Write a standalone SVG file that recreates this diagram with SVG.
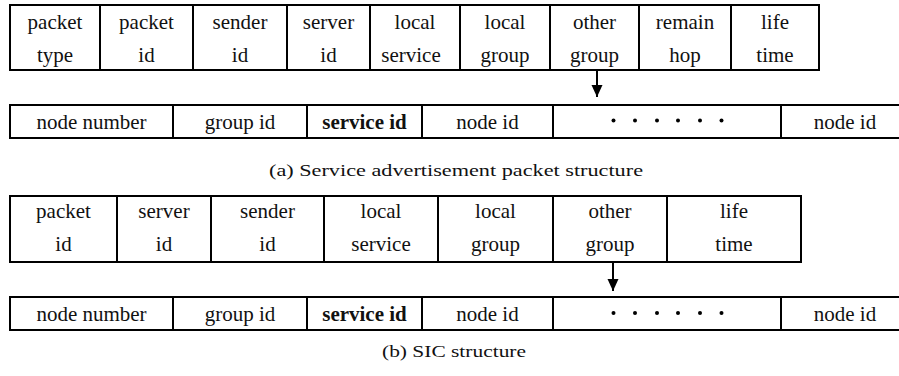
<svg xmlns="http://www.w3.org/2000/svg" width="899" height="376" viewBox="0 0 899 376">
<style>
.box{fill:none;stroke:#000;stroke-width:2}
.sep{stroke:#000;stroke-width:2}
.t{font-family:'Liberation Serif','Times New Roman',serif;font-size:21px;fill:#111;text-anchor:middle}
.b{font-weight:bold}
.cap{font-family:'Liberation Serif','Times New Roman',serif;font-size:17px;fill:#111}
.dot{fill:#000}
.conn{stroke:#000;stroke-width:2;fill:none}
</style>
<defs>
<marker id="ah" markerWidth="14" markerHeight="12" refX="13" refY="6" orient="auto" markerUnits="userSpaceOnUse" viewBox="0 0 14 12">
<path d="M1,0.5 L13,6 L1,11.5 Z" fill="#000"/>
</marker>
</defs>
<rect width="899" height="376" fill="#fff"/>

<g id="rowA1">
<rect class="box" x="10" y="5" width="809" height="65"/>
<line class="sep" x1="100" y1="5" x2="100" y2="70"/>
<line class="sep" x1="193" y1="5" x2="193" y2="70"/>
<line class="sep" x1="287" y1="5" x2="287" y2="70"/>
<line class="sep" x1="370" y1="5" x2="370" y2="70"/>
<line class="sep" x1="460" y1="5" x2="460" y2="70"/>
<line class="sep" x1="550" y1="5" x2="550" y2="70"/>
<line class="sep" x1="639" y1="5" x2="639" y2="70"/>
<line class="sep" x1="731" y1="5" x2="731" y2="70"/>
<text class="t" x="55" y="29">packet</text><text class="t" x="55" y="62">type</text>
<text class="t" x="146.5" y="29">packet</text><text class="t" x="146.5" y="62">id</text>
<text class="t" x="240" y="29">sender</text><text class="t" x="240" y="62">id</text>
<text class="t" x="328.5" y="29">server</text><text class="t" x="328.5" y="62">id</text>
<text class="t" x="415" y="29">local</text><text class="t" x="411" y="62">service</text>
<text class="t" x="505" y="29">local</text><text class="t" x="505" y="62">group</text>
<text class="t" x="594.5" y="29">other</text><text class="t" x="594.5" y="62">group</text>
<text class="t" x="685" y="29">remain</text><text class="t" x="685" y="62">hop</text>
<text class="t" x="775" y="29">life</text><text class="t" x="775" y="62">time</text>
</g>

<g id="rowA2">
<path class="box" d="M900,105 L10,105 L10,138 L900,138"/>
<line class="sep" x1="173" y1="105" x2="173" y2="138"/>
<line class="sep" x1="307" y1="105" x2="307" y2="138"/>
<line class="sep" x1="422" y1="105" x2="422" y2="138"/>
<line class="sep" x1="553" y1="105" x2="553" y2="138"/>
<line class="sep" x1="781" y1="105" x2="781" y2="138"/>
<text class="t" x="91.5" y="129">node number</text>
<text class="t" x="240" y="129">group id</text>
<text class="t b" x="364.5" y="129">service id</text>
<text class="t" x="487.5" y="129">node id</text>
<circle class="dot" cx="613.5" cy="120.5" r="2"/><circle class="dot" cx="635" cy="120.5" r="2"/><circle class="dot" cx="657" cy="120.5" r="2"/><circle class="dot" cx="678" cy="120.5" r="2"/><circle class="dot" cx="700" cy="120.5" r="2"/><circle class="dot" cx="721.5" cy="120.5" r="2"/>
<text class="t" x="845" y="129">node id</text>
</g>

<g id="rowB1">
<rect class="box" x="10" y="196" width="791" height="66"/>
<line class="sep" x1="117" y1="196" x2="117" y2="262"/>
<line class="sep" x1="211" y1="196" x2="211" y2="262"/>
<line class="sep" x1="324" y1="196" x2="324" y2="262"/>
<line class="sep" x1="438" y1="196" x2="438" y2="262"/>
<line class="sep" x1="553" y1="196" x2="553" y2="262"/>
<line class="sep" x1="667" y1="196" x2="667" y2="262"/>
<text class="t" x="63.5" y="218">packet</text><text class="t" x="63.5" y="251">id</text>
<text class="t" x="164" y="218">server</text><text class="t" x="164" y="251">id</text>
<text class="t" x="267.5" y="218">sender</text><text class="t" x="267.5" y="251">id</text>
<text class="t" x="381" y="218">local</text><text class="t" x="381" y="251">service</text>
<text class="t" x="495.5" y="218">local</text><text class="t" x="495.5" y="251">group</text>
<text class="t" x="610" y="218">other</text><text class="t" x="610" y="251">group</text>
<text class="t" x="734" y="218">life</text><text class="t" x="734" y="251">time</text>
</g>

<g id="rowB2">
<path class="box" d="M900,297 L10,297 L10,330 L900,330"/>
<line class="sep" x1="173" y1="297" x2="173" y2="330"/>
<line class="sep" x1="307" y1="297" x2="307" y2="330"/>
<line class="sep" x1="422" y1="297" x2="422" y2="330"/>
<line class="sep" x1="553" y1="297" x2="553" y2="330"/>
<line class="sep" x1="781" y1="297" x2="781" y2="330"/>
<text class="t" x="91.5" y="321">node number</text>
<text class="t" x="240" y="321">group id</text>
<text class="t b" x="364.5" y="321">service id</text>
<text class="t" x="487.5" y="321">node id</text>
<circle class="dot" cx="613.5" cy="313" r="2"/><circle class="dot" cx="635" cy="313" r="2"/><circle class="dot" cx="657" cy="313" r="2"/><circle class="dot" cx="678" cy="313" r="2"/><circle class="dot" cx="700" cy="313" r="2"/><circle class="dot" cx="721.5" cy="313" r="2"/>
<text class="t" x="845" y="321">node id</text>
</g>

<g id="connectors">
<line class="conn" x1="597" y1="70" x2="597" y2="97" marker-end="url(#ah)"/>
<line class="conn" x1="613" y1="262" x2="613" y2="291" marker-end="url(#ah)"/>
</g>

<g id="captions">
<text class="cap" x="269" y="176" textLength="374" lengthAdjust="spacingAndGlyphs">(a) Service advertisement packet structure</text>
<text class="cap" x="382" y="357" textLength="144" lengthAdjust="spacingAndGlyphs">(b) SIC structure</text>
</g>
</svg>
